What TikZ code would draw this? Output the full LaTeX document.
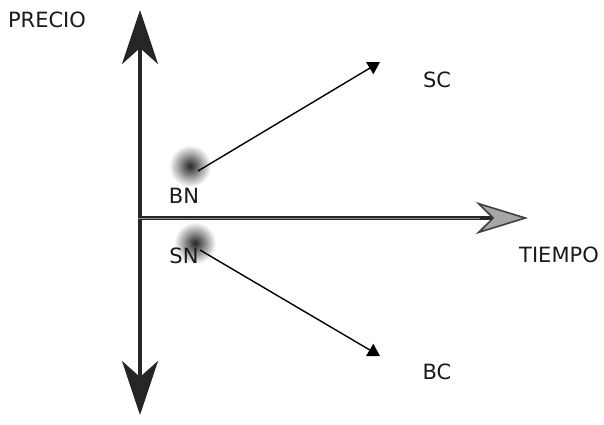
\documentclass[tikz,border=0pt]{standalone}
\usepackage{fontspec}
\setmainfont{DejaVu Sans}
\usetikzlibrary{arrows.meta,positioning}
\tikzset{
    axis/.style={line width=2pt, draw=black!85, -{Stealth[length=27pt, width=18pt, inset=8pt, fill=black!85]}},
    label/.style={font=\fontsize{10.5}{12}\selectfont, text=black!90, inner sep=0pt},
    move/.style={line width=0.7pt, -{Triangle[length=6pt, width=7pt]}},
    spot/.style={circle, minimum size=21pt, inner sep=0pt, inner color=black!85, outer color=white}
}
\begin{document}
\begin{tikzpicture}[x=0.5pt, y=-0.5pt]
    \useasboundingbox (0,0) rectangle (604,424);
    % axes
    \coordinate (o) at (138,218);
    \coordinate (top) at (140,10);
    \coordinate (bottom) at (140,415);
    \coordinate (right) at (528,218);
    \draw[axis] (140,218) -- (top);
    \draw[axis] (140,218) -- (bottom);
    \draw[line width=2.4pt, draw=black!85, -{Stealth[length=26pt, width=16pt, inset=8pt, fill=black!35, color=black!75, line width=0.8pt]}] (o) -- (right);
    \draw[line width=0.35pt, draw=black!45] (o) -- (480,218);
    % axis labels
    \node[label] (precio) at (47,20) {PRECIO};
    \node[label] (tiempo) at (559,255) {TIEMPO};
    % spots
    \node[spot] (bnspot) at (190,166) {};
    \node[spot] (snspot) at (195,243) {};
    \node[label] (bn) at (184,196) {BN};
    \node[label] (sn) at (184,256) {SN};
    % moves
    \coordinate (sctip) at (380,62);
    \coordinate (bctip) at (380,356);
    \draw[move] (bnspot.center) ++(8,5) -- (sctip);
    \draw[move] (snspot.center) ++(5,7) -- (bctip);
    \node[label] (sc) at (437,80) {SC};
    \node[label] (bc) at (437,372) {BC};
\end{tikzpicture}
\end{document}
